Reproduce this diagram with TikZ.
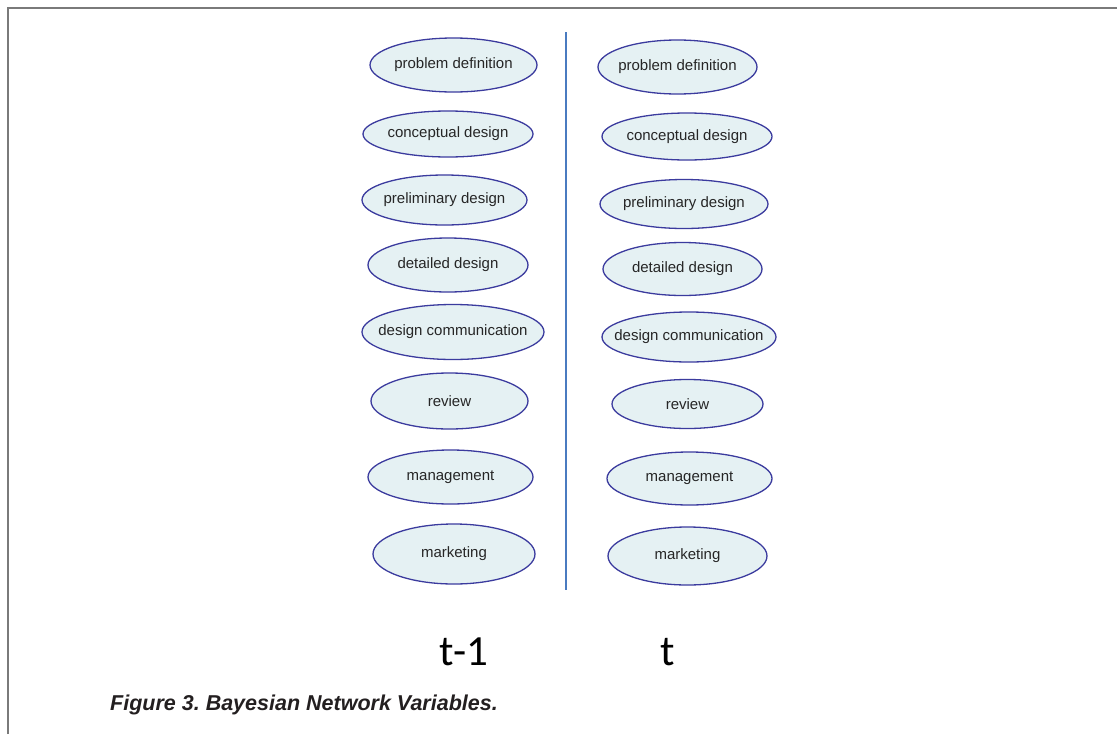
\documentclass[tikz,border=0pt]{standalone}
\usepackage{fontspec}
\usetikzlibrary{shapes.geometric}
\setmainfont{Liberation Sans}
\newfontfamily\nodefont{Liberation Sans}
\newfontfamily\timefont{Carlito}
\newfontfamily\capfont{Liberation Sans}
\definecolor{varedge}{HTML}{3B3B9E}
\definecolor{varfill}{HTML}{E5F1F3}
\definecolor{sliceline}{HTML}{4A7BC0}
\definecolor{framegray}{HTML}{7A7A7A}
\definecolor{captext}{HTML}{231F20}
% label of zero width, so the ellipse keeps the size it is given
\newcommand{\vlabel}[1]{\makebox[0pt]{#1}}
\tikzset{
  var/.style={ellipse, draw=varedge, line width=1.3pt, fill=varfill, inner sep=0pt,
    font=\nodefont\fontsize{15}{17}\selectfont, text=black!85},
  timelabel/.style={anchor=base, font=\timefont\fontsize{43}{50}\selectfont, text=black, inner sep=0pt},
}
\frenchspacing
\begin{document}
\begin{tikzpicture}[x=1pt,y=-1pt]
\useasboundingbox (0,0) rectangle (1117,734);
% frame
\draw[framegray, line width=1.6pt] (8,734) -- (8,8) -- (1117,8);
% time-slice separator
\coordinate (sepTop) at (566,32);
\coordinate (sepBot) at (566,590);
\draw[sliceline, line width=1.8pt] (sepTop) -- (sepBot);
% slice t-1
\node[var, minimum width=167, minimum height=54] (a1) at (453.5,65) {\vlabel{problem definition}};
\node[var, minimum width=170, minimum height=46] (a2) at (448,134) {\vlabel{conceptual design}};
\node[var, minimum width=165, minimum height=50] (a3) at (444.5,200) {\vlabel{preliminary design}};
\node[var, minimum width=160, minimum height=54] (a4) at (448,265) {\vlabel{detailed design}};
\node[var, minimum width=182, minimum height=55] (a5) at (453,332) {\vlabel{design communication}};
\node[var, minimum width=157, minimum height=56] (a6) at (449.5,401) {\vlabel{review}};
\node[var, minimum width=165, minimum height=54] (a7) at (450.5,477) {\vlabel{management}};
\node[var, minimum width=162, minimum height=60] (a8) at (454,554) {\vlabel{marketing}};
% slice t
\node[var, minimum width=159, minimum height=54] (b1) at (677.5,67) {\vlabel{problem definition}};
\node[var, minimum width=170, minimum height=47] (b2) at (687,136.5) {\vlabel{conceptual design}};
\node[var, minimum width=168, minimum height=49] (b3) at (684,204) {\vlabel{preliminary design}};
\node[var, minimum width=159, minimum height=53] (b4) at (682.5,269) {\vlabel{detailed design}};
\node[var, minimum width=174, minimum height=50] (b5) at (689,337) {\vlabel{design communication}};
\node[var, minimum width=151, minimum height=49] (b6) at (687.5,404) {\vlabel{review}};
\node[var, minimum width=165, minimum height=53] (b7) at (689.5,478.5) {\vlabel{management}};
\node[var, minimum width=159, minimum height=58] (b8) at (687.5,556) {\vlabel{marketing}};
% slice labels
\node[timelabel] (tprev) at (464,665) {t-1};
\node[timelabel] (tnow) at (668,665) {t};
% caption
\node[anchor=base west, inner sep=0pt, text=captext,
  font=\capfont\fontsize{21.5}{24}\selectfont\bfseries\itshape] (caption) at (110,710)
  {Figure 3. Bayesian Network Variables.};
\end{tikzpicture}
\end{document}
